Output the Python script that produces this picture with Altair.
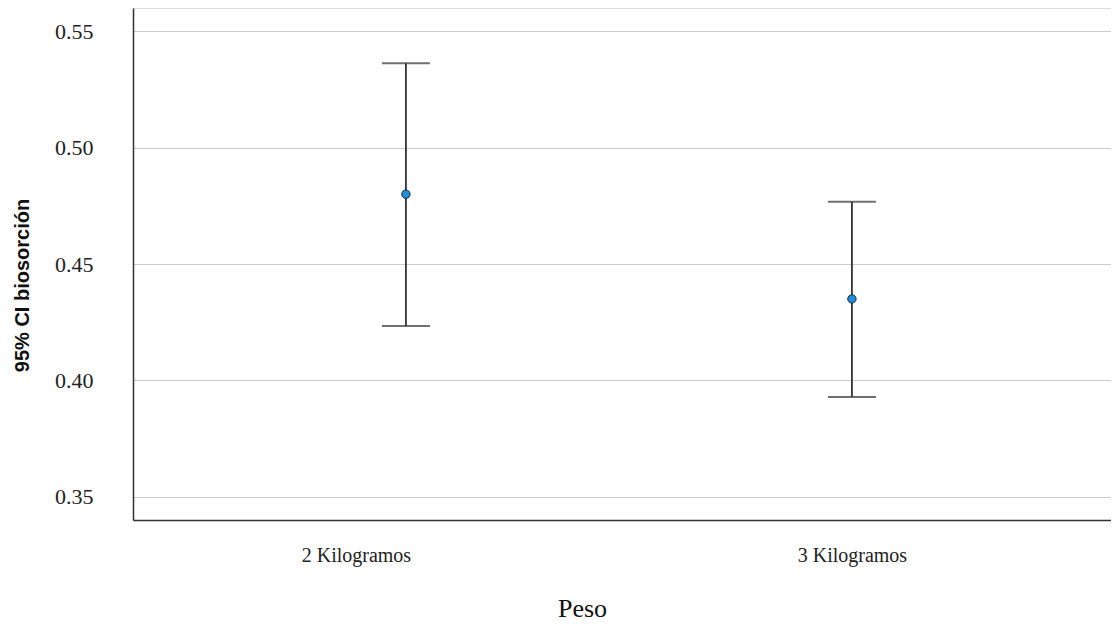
import altair as alt
import pandas as pd

categories = ["2 Kilogramos", "3 Kilogramos"]
means = [0.480, 0.435]
lower = [0.4234, 0.3929]
upper = [0.5363, 0.4767]

df = pd.DataFrame({"Peso": categories, "mean": means, "lo": lower, "hi": upper})

xenc = alt.X(
    "Peso:N",
    sort=categories,
    scale=alt.Scale(type="point", padding=0.5964, align=0.513),
    axis=alt.Axis(
        title="Peso", labelAngle=0, grid=False, ticks=False,
        labelFont="Liberation Serif", labelFontSize=20, labelColor="#222",
        labelPadding=25,
        labelOffset=alt.expr("datum.value == '2 Kilogramos' ? -50 : 0"),
        titleFont="Liberation Serif", titleFontSize=26,
        titleFontWeight="normal", titleColor="#111", titlePadding=30,
        titleX=449,
        domainColor="#333", domainWidth=1.5,
    ),
)
yscale = alt.Scale(domain=[0.34, 0.56], nice=False, zero=False)
yaxis = alt.Axis(
    title="95% CI biosorción", values=[0.35, 0.40, 0.45, 0.50, 0.55], format=".2f",
    ticks=False, grid=True, gridColor="#cccccc", gridWidth=1.2,
    labelFont="Liberation Serif", labelFontSize=22, labelColor="#222", labelPadding=40,
    titleFont="Liberation Sans", titleFontSize=20, titleFontWeight="bold",
    titleColor="#111", titlePadding=22, titleY=277,
    domainColor="#333", domainWidth=1.5,
)

rule = alt.Chart(df).mark_rule(color="#333", strokeWidth=1.8).encode(
    x=xenc, y=alt.Y("lo:Q", scale=yscale, axis=yaxis), y2="hi:Q"
)
cap_hi = alt.Chart(df).mark_tick(color="#333", thickness=2, size=48).encode(
    x=xenc, y=alt.Y("hi:Q", scale=yscale)
)
cap_lo = alt.Chart(df).mark_tick(color="#333", thickness=2, size=48).encode(
    x=xenc, y=alt.Y("lo:Q", scale=yscale)
)
pts = alt.Chart(df).mark_point(
    filled=True, size=70, color="#1f8fdc", stroke="#1a2a3a", strokeWidth=1, opacity=1
).encode(x=xenc, y=alt.Y("mean:Q", scale=yscale))

chart = (
    alt.layer(rule, cap_hi, cap_lo, pts)
    .properties(width=978, height=512, padding={"left": 4, "top": 0, "right": 0, "bottom": 0})
    .configure_view(stroke=None)
    .configure(background="white")
)

chart.save("out.html", embed_options={"renderer": "svg", "actions": False})
